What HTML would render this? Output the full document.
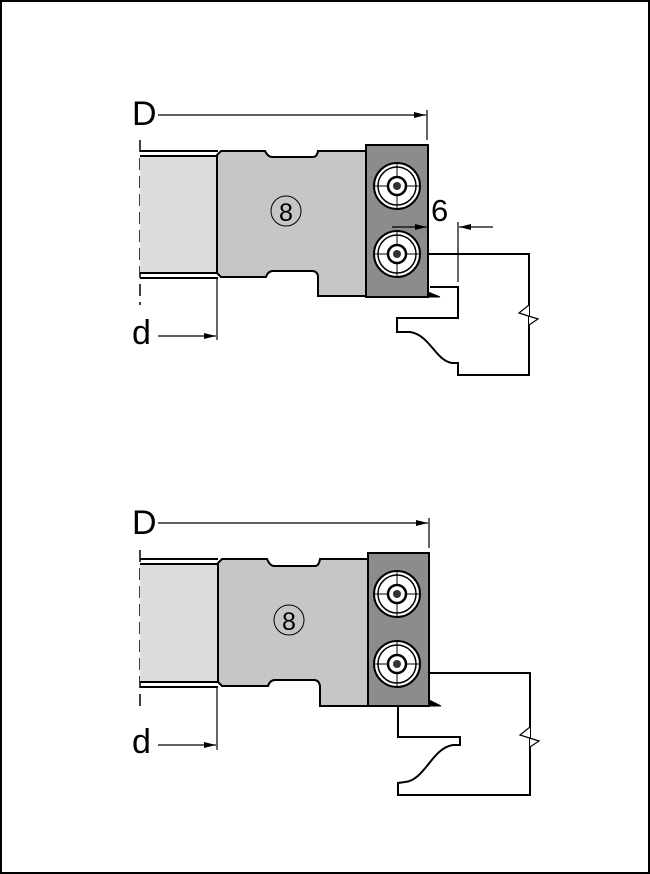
<!DOCTYPE html>
<html><head><style>
html,body{margin:0;padding:0;background:#fff}
svg{display:block}
text{font-family:"Liberation Sans",sans-serif}
</style></head><body>
<svg width="650" height="874" viewBox="0 0 650 874" xmlns="http://www.w3.org/2000/svg">
<defs>
<marker id="ar" markerWidth="12" markerHeight="8" refX="12" refY="4" orient="auto" markerUnits="userSpaceOnUse">
<path d="M0,1 L12,4 L0,7 Z" fill="#000"/></marker>
<g id="screw">
<circle r="23" fill="#fff" stroke="#000" stroke-width="2"/>
<circle r="19" fill="none" stroke="#000" stroke-width="1.5"/>
<line x1="-23" y1="0" x2="23" y2="0" stroke="#000" stroke-width="1"/>
<line x1="0" y1="-23" x2="0" y2="23" stroke="#000" stroke-width="1"/>
<circle r="9" fill="#fff" stroke="#000" stroke-width="2.5"/>
<circle r="4" fill="#333" stroke="none"/>
</g>
</defs>
<rect x="1" y="1" width="648" height="872" fill="#fff" stroke="#000" stroke-width="2"/>

<!-- TOP -->
<g stroke="#000" fill="none">
<text x="132" y="125" font-size="34" fill="#000" stroke="none">D</text>
<line x1="158" y1="115" x2="426" y2="115" stroke-width="1.2" marker-end="url(#ar)"/>
<line x1="427" y1="110" x2="427" y2="140" stroke-width="1.2"/>
<line x1="140" y1="140" x2="140" y2="305" stroke-width="1.5" stroke-dasharray="12,6"/>
<rect x="140" y="156" width="78" height="117" fill="#dcdcdc" stroke="none"/>
<line x1="140" y1="151" x2="218" y2="151" stroke-width="2"/>
<line x1="140" y1="156" x2="218" y2="156" stroke-width="2"/>
<line x1="140" y1="273" x2="218" y2="273" stroke-width="2"/>
<line x1="140" y1="278" x2="218" y2="278" stroke-width="2"/>
<path d="M221,151 L265,151 Q268,157 272,157 L313,157 Q317,157 318,151 L366,151 L366,296 L318,296 L318,276 Q317,271 312,271 L273,271 Q268,271 266,277 L221,277 L217,273 L217,155 Z" fill="#c6c6c6" stroke-width="2"/>
<circle cx="286" cy="211" r="15" stroke-width="1"/>
<text x="286" y="221" font-size="25" text-anchor="middle" fill="#000" stroke="none">8</text>
<rect x="366" y="145" width="62" height="152" fill="#8c8c8c" stroke-width="2"/>
<path d="M428,292 L440,297 L428,297 Z" fill="#000"/>
<use href="#screw" x="397" y="186"/>
<use href="#screw" x="397" y="254"/>
<text x="431" y="221" font-size="31" fill="#000" stroke="none">6</text>
<line x1="392" y1="227" x2="427" y2="227" stroke-width="1.2" marker-end="url(#ar)"/>
<line x1="493" y1="227" x2="459" y2="227" stroke-width="1.2" marker-end="url(#ar)"/>
<line x1="458" y1="222" x2="458" y2="282" stroke-width="1.2"/>
<path d="M429,254 L529,254 L529,375 L458,375 L458,363 L452,363 C435,360 430,335 410,332 L397,332 L397,318 L458,318 L458,287 L430,287" stroke-width="2"/>
<path d="M529,300 L529,305 L519,313 L538,319 L529,325" fill="#fff" stroke-width="1.2"/>
<text x="132" y="344" font-size="34" fill="#000" stroke="none">d</text>
<line x1="158" y1="336" x2="216" y2="336" stroke-width="1.2" marker-end="url(#ar)"/>
<line x1="217" y1="277" x2="217" y2="340" stroke-width="1.2"/>
</g>

<!-- BOTTOM -->
<g stroke="#000" fill="none">
<text x="132" y="534" font-size="34" fill="#000" stroke="none">D</text>
<line x1="158" y1="523" x2="428" y2="523" stroke-width="1.2" marker-end="url(#ar)"/>
<line x1="429" y1="518" x2="429" y2="548" stroke-width="1.2"/>
<line x1="140" y1="550" x2="140" y2="712" stroke-width="1.5" stroke-dasharray="12,6"/>
<rect x="140" y="564" width="78" height="118" fill="#dcdcdc" stroke="none"/>
<line x1="140" y1="559" x2="218" y2="559" stroke-width="2"/>
<line x1="140" y1="564" x2="218" y2="564" stroke-width="2"/>
<line x1="140" y1="682" x2="218" y2="682" stroke-width="2"/>
<line x1="140" y1="687" x2="218" y2="687" stroke-width="2"/>
<path d="M222,559 L267,559 Q270,566 274,566 L315,566 Q319,566 320,559 L368,559 L368,706 L320,706 L320,686 Q319,680 314,680 L275,680 Q270,680 268,686 L222,686 L218,682 L218,563 Z" fill="#c6c6c6" stroke-width="2"/>
<circle cx="289" cy="620" r="15" stroke-width="1"/>
<text x="289" y="630" font-size="25" text-anchor="middle" fill="#000" stroke="none">8</text>
<rect x="368" y="553" width="61" height="153" fill="#8c8c8c" stroke-width="2"/>
<path d="M429,700 L441,706 L429,706 Z" fill="#000"/>
<use href="#screw" x="397" y="594"/>
<use href="#screw" x="397" y="664"/>
<path d="M430,673 L530,673 L530,795 L398,795 L398,783 L405,782 C425,780 432,748 453,745 L460,745 L460,737 L398,737 L398,706" stroke-width="2"/>
<path d="M530,722 L530,727 L520,735 L539,741 L530,747" fill="#fff" stroke-width="1.2"/>
<text x="132" y="753" font-size="34" fill="#000" stroke="none">d</text>
<line x1="158" y1="745" x2="216" y2="745" stroke-width="1.2" marker-end="url(#ar)"/>
<line x1="217" y1="686" x2="217" y2="750" stroke-width="1.2"/>
</g>
</svg>
</body></html>
